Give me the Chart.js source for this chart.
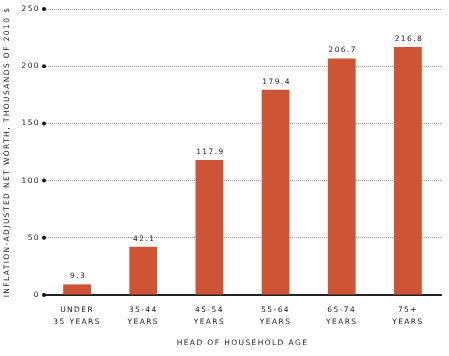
<!DOCTYPE html>
<html>
<head>
<meta charset="utf-8">
<script src="https://cdn.jsdelivr.net/npm/chart.js@4"></script>
<style>
html,body{margin:0;padding:0;background:#fff;}
#wrap{width:449px;height:356px;position:relative;}
</style>
</head>
<body>
<div id="wrap"><canvas id="c" width="449" height="356"></canvas></div>
<script>
const categories = [["UNDER","35 YEARS"],["35-44","YEARS"],["45-54","YEARS"],["55-64","YEARS"],["65-74","YEARS"],["75+","YEARS"]];
const netWorth = [9.3, 42.1, 117.9, 179.4, 206.7, 216.8];
const yTickValues = [0, 50, 100, 150, 200, 250];
const yTitle = "INFLATION-ADJUSTED NET WORTH, THOUSANDS OF 2010 $";
const xTitle = "HEAD OF HOUSEHOLD AGE";

const FONT = "'DejaVu Sans', sans-serif";
const SIZE = 7.5;
const SPACING = '1.4px';
const TEXT = '#1a1a1a';

const spacingPlugin = {
  id: 'spacing',
  beforeLayout(chart){ chart.ctx.letterSpacing = SPACING; },
  beforeDraw(chart){ chart.ctx.letterSpacing = SPACING; }
};

const extrasPlugin = {
  id: 'extras',
  afterDatasetsDraw(chart){
    const ctx = chart.ctx;
    const meta = chart.getDatasetMeta(0);
    ctx.save();
    ctx.letterSpacing = SPACING;
    ctx.font = SIZE + "px " + FONT;
    ctx.fillStyle = TEXT;
    ctx.textAlign = 'center';
    ctx.textBaseline = 'middle';
    meta.data.forEach((bar, i) => {
      ctx.fillText(netWorth[i].toFixed(1), bar.x + 1, bar.y - 8);
    });
    ctx.restore();
  },
  afterDraw(chart){
    const ctx = chart.ctx;
    const y = chart.scales.y;
    ctx.save();
    ctx.fillStyle = '#111';
    yTickValues.forEach(v => {
      ctx.beginPath();
      ctx.arc(chart.chartArea.left, y.getPixelForValue(v), 2, 0, Math.PI * 2);
      ctx.fill();
    });
    ctx.restore();
  }
};

new Chart(document.getElementById('c'), {
  type: 'bar',
  data: {
    labels: categories,
    datasets: [{
      data: netWorth,
      backgroundColor: '#cd5434',
      borderWidth: 0,
      barPercentage: 0.42,
      categoryPercentage: 1
    }]
  },
  options: {
    responsive: false,
    animation: false,
    devicePixelRatio: 1,
    layout: { padding: { top: 9, right: 8, left: 0, bottom: 0 } },
    plugins: { legend: { display: false }, tooltip: { enabled: false } },
    scales: {
      x: {
        afterFit(s){ s.height = 61; },
        grid: { display: false, drawTicks: false },
        border: { display: true, color: '#222', width: 2 },
        ticks: {
          color: TEXT, padding: 9, maxRotation: 0, autoSkip: false,
          font: { family: FONT, size: SIZE, lineHeight: 1.6 }
        },
        title: {
          display: true, text: xTitle, color: TEXT,
          font: { family: FONT, size: SIZE, lineHeight: 1.2 },
          padding: { top: 0, bottom: 8 }
        }
      },
      y: {
        min: 0, max: 250,
        afterFit(s){ s.width = 44; },
        afterBuildTicks(s){ s.ticks = yTickValues.map(v => ({ value: v })); },
        grid: {
          drawTicks: false,
          color: (c) => (c.tick && c.tick.value === 0) ? 'rgba(0,0,0,0)' : '#999',
          lineWidth: 1
        },
        border: { display: false, dash: [1, 1] },
        ticks: {
          color: TEXT, padding: 4,
          font: { family: FONT, size: SIZE }
        },
        title: {
          display: true, text: yTitle, color: TEXT,
          font: { family: FONT, size: SIZE, lineHeight: 1.2 },
          padding: { top: 3, bottom: 0 }
        }
      }
    }
  },
  plugins: [spacingPlugin, extrasPlugin]
});
</script>
</body>
</html>
